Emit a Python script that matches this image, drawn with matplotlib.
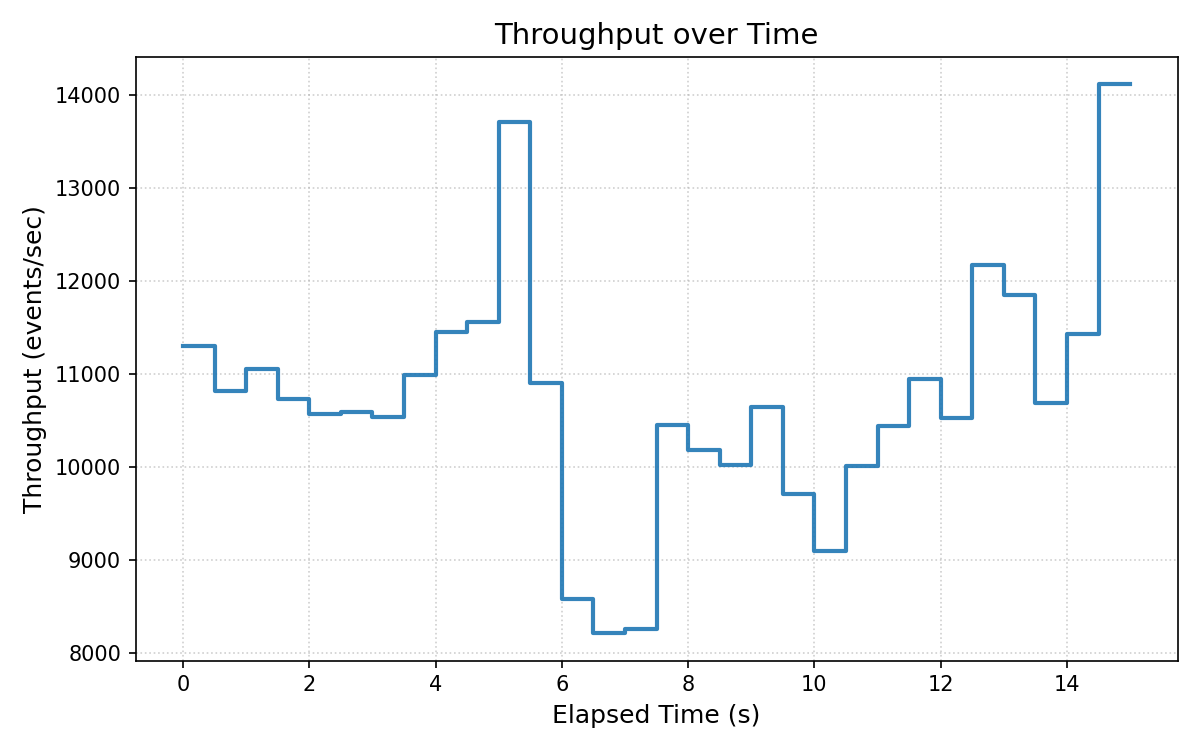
import numpy as np
import matplotlib
matplotlib.use("Agg")
import matplotlib.pyplot as plt

# throughput sampled every 0.5 s (value holds until next sample)
elapsed = [0.0, 0.5, 1.0, 1.5, 2.0, 2.5, 3.0, 3.5, 4.0, 4.5,
           5.0, 5.5, 6.0, 6.5, 7.0, 7.5, 8.0, 8.5, 9.0, 9.5,
           10.0, 10.5, 11.0, 11.5, 12.0, 12.5, 13.0, 13.5, 14.0, 14.5, 15.0]
throughput = [11300, 10822, 11059, 10735, 10573, 10600, 10541, 10990, 11460, 11560,
              13710, 10910, 8584, 8216, 8259, 10454, 10190, 10022, 10649, 9708,
              9103, 10011, 10443, 10945, 10530, 12173, 11849, 10692, 11438, 14119, 14119]

fig, ax = plt.subplots(figsize=(8, 5), dpi=150)

ax.step(elapsed, throughput, where='post', color='#1f77b4', alpha=0.9, linewidth=2)

ax.set_title('Throughput over Time', fontsize=14)
ax.set_xlabel('Elapsed Time (s)', fontsize=12)
ax.set_ylabel('Throughput (events/sec)', fontsize=12)
ax.grid(True, linestyle=':', alpha=0.6)

fig.tight_layout()
fig.savefig('out.png')
